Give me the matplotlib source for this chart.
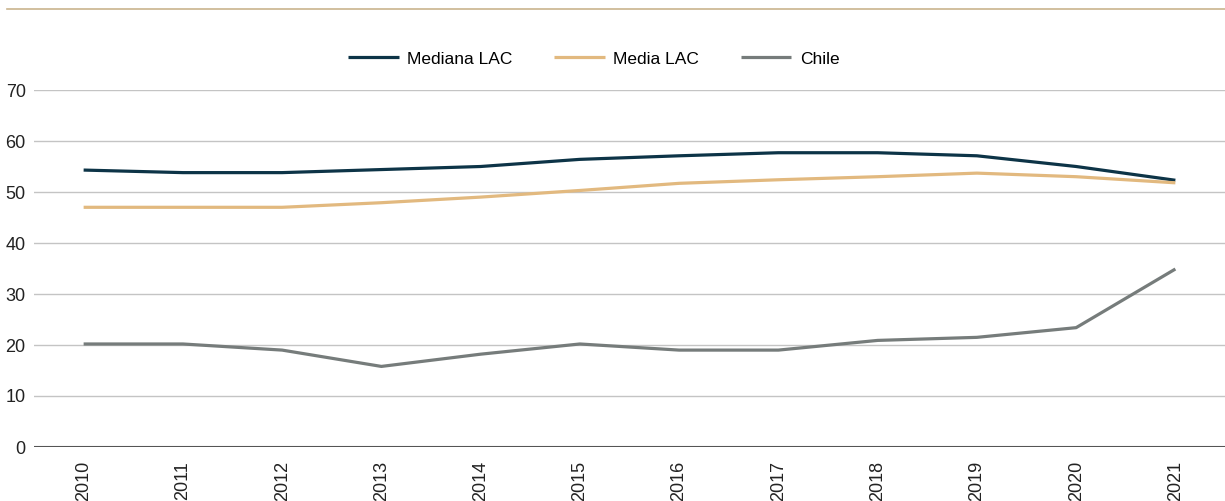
import matplotlib
matplotlib.use("Agg")
import matplotlib.pyplot as plt
from matplotlib.lines import Line2D

plt.rcParams['font.family'] = ['Liberation Sans', 'DejaVu Sans']

# data
years = ['2010', '2011', '2012', '2013', '2014', '2015',
         '2016', '2017', '2018', '2019', '2020', '2021']
mediana_lac = [54.3, 53.8, 53.8, 54.4, 55.0, 56.4, 57.1, 57.7, 57.7, 57.1, 55.0, 52.3]
media_lac = [47.0, 47.0, 47.0, 47.9, 49.0, 50.3, 51.7, 52.4, 53.0, 53.7, 53.0, 51.8]
chile = [20.2, 20.2, 19.0, 15.8, 18.2, 20.2, 19.0, 19.0, 20.9, 21.5, 23.4, 34.9]

series = [
    ('Mediana LAC', mediana_lac, '#0d3447'),
    ('Media LAC', media_lac, '#e2b97f'),
    ('Chile', chile, '#767c7b'),
]

W, H = 1225, 501
fig = plt.figure(figsize=(W / 100, H / 100), dpi=100)
ax = fig.add_axes([34 / W, 1 - 447 / H, 1 - 34 / W, (447 - 90) / H])

x = list(range(len(years)))
for name, vals, col in series:
    ax.plot(x, vals, color=col, lw=2.3, label=name, solid_capstyle='butt', zorder=3)

ax.set_xlim(-0.5, len(years) - 0.5)
ax.set_ylim(0, 70)
ax.set_yticks(range(0, 71, 10))
ax.set_xticks(x)
ax.set_xticklabels(years, rotation=90, fontsize=13, color='#222222')
ax.tick_params(axis='y', length=0, pad=6, labelsize=13, labelcolor='#222222')
ax.tick_params(axis='x', length=0, pad=10)

for v in range(10, 71, 10):
    ax.axhline(v, color='#c4c4c4', lw=1.0, zorder=1)
ax.axhline(0, color='#555555', lw=1.5, zorder=2)

for s in ax.spines.values():
    s.set_visible(False)

# thin gold rule across the top
fig.add_artist(Line2D([7 / W, 1], [1 - 9 / H, 1 - 9 / H], color='#c9b48e', lw=1.2))

fig.legend(loc='center', bbox_to_anchor=(594 / W, 1 - 59 / H), ncol=3, frameon=False,
           fontsize=12.5, handlelength=2.9, handletextpad=0.5, columnspacing=2.4)

fig.savefig('out.png', dpi=100)
